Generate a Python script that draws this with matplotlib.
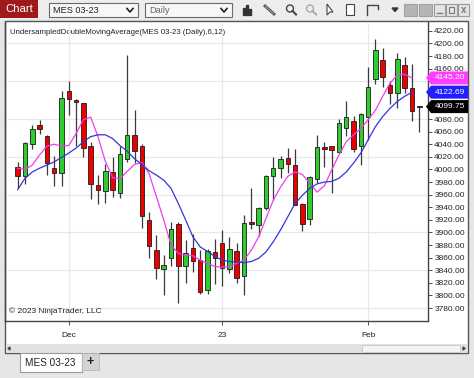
import matplotlib
matplotlib.use("Agg")
import matplotlib.pyplot as plt
from matplotlib.patches import Rectangle, Polygon, Circle

plt.rcParams['font.family'] = ['Liberation Sans', 'DejaVu Sans']

# ---------------- data ----------------
opens = [4003.5, 3990, 4041, 4070, 4053, 4003, 3994, 4125, 4110, 4105,
         4037, 3975, 3966, 3996, 3963, 4017, 4054, 4037, 3920, 3872,
         3842, 3859, 3913, 3847, 3876, 3856, 3809, 3869, 3884, 3842,
         3871, 3831, 3916, 3912, 3939, 3990, 4002, 4018, 4007, 3945,
         3922, 3985, 4035, 4037, 4028, 4065, 4077, 4037, 4084, 4143,
         4174, 4134, 4122, 4166, 4130, 4099]
highs = [4012, 4044, 4070, 4078, 4054, 4021, 4125, 4140, 4112, 4106,
         4044, 3991, 4008, 4020, 4037, 4182, 4094, 4040, 3932, 3896,
         3864, 3916, 3917, 3888, 3897, 3872, 3873, 3889, 3904, 3893,
         3883, 3927, 3970, 3941, 3991, 4020, 4021, 4034, 4032, 3946,
         3990, 4054, 4044, 4038, 4080, 4108, 4085, 4090, 4162, 4207,
         4192, 4141, 4185, 4178, 4168, 4101]
lows = [3970, 3977, 4032, 4056, 3991, 3973, 3974, 4087, 4038, 4019,
        3953, 3945, 3947, 3957, 3955, 4012, 4010, 3907, 3859, 3826,
        3801, 3846, 3788, 3820, 3838, 3803, 3802, 3819, 3815, 3835,
        3820, 3801, 3906, 3895, 3935, 3952, 3987, 3994, 3943, 3902,
        3912, 3978, 4004, 3962, 4026, 4053, 4028, 4007, 4047, 4136,
        4131, 4104, 4098, 4121, 4077, 4060]
closes = [3990, 4041.5, 4064, 4064, 4010, 3994, 4113, 4112, 4107, 4034,
          3977, 3968, 3997, 3967, 4024, 4054, 4029, 3926, 3879, 3843,
          3848, 3905, 3847, 3868, 3854, 3806, 3870, 3860, 3844, 3873,
          3827, 3915, 3913, 3939, 3990, 4002, 4017, 4009, 3944, 3914,
          3988, 4035, 4032, 4031, 4074, 4083, 4032, 4088, 4131, 4190,
          4146, 4122, 4175, 4130, 4092, 4099.75]
ma6 = [4002, 4000, 4007, 4023, 4037, 4040, 4037, 4038, 4057, 4079,
       4083, 4052, 4013, 3987, 3985, 3997, 4008, 4011, 3993, 3957,
       3920, 3880, 3867, 3864, 3863, 3856, 3851, 3846, 3845, 3846,
       3851, 3856, 3872, 3893, 3922, 3951, 3972, 3989, 3996, 3992,
       3978, 3964, 3974, 3999, 4023, 4044, 4055, 4065, 4079, 4094,
       4116, 4137, 4150, 4151, 4145.2]
ma12 = [3968, 3986, 3996, 4002, 4007, 4012, 4019, 4026, 4034, 4044,
        4052, 4055, 4055, 4049, 4038, 4029, 4017, 4008, 3998, 3991,
        3983, 3970, 3946, 3920, 3893, 3877, 3870, 3862, 3856, 3854,
        3853, 3852, 3854, 3859, 3869, 3885, 3904, 3925, 3946, 3959,
        3970, 3977, 3980, 3981, 3986, 3996, 4010, 4026, 4047, 4068,
        4084, 4097, 4108, 4116, 4122.69]
xtick_pos = [7, 28, 48]
xtick_labels = ['Dec', '23', 'Feb']
ytick_vals = list(range(3780, 4221, 20))
hidden_ticks = [4100, 4120, 4140]   # covered by the last-value markers
grid_vals = list(range(3780, 4201, 60))
last_values = [4145.20, 4122.69, 4099.75]
last_colors = ['#ff3dff', '#1f1fff', '#000000']
indicator_text = "UndersampledDoubleMovingAverage(MES 03-23 (Daily),6,12)"
copyright_text = "\u00a9 2023 NinjaTrader, LLC"
instrument = "MES 03-23"
period = "Daily"

# ---------------- figure & chrome ----------------
W, H = 474, 378
fig = plt.figure(figsize=(W / 100, H / 100), dpi=100)
bg = fig.add_axes([0, 0, 1, 1], zorder=0)
bg.set_xlim(0, W)
bg.set_ylim(H, 0)
bg.axis('off')

def rect(x0, y0, x1, y1, fc, ec='none', lw=0.8, z=1):
    bg.add_patch(Rectangle((x0, y0), x1 - x0, y1 - y0, facecolor=fc,
                           edgecolor=ec, linewidth=lw, zorder=z))

rect(0, 0, W, H, '#e6e6e6', z=0)
rect(0, 0, W, 20, '#ededed', z=0.5)
# Chart tab
rect(0, 0, 38, 18, '#9e1a1a')
bg.text(19, 9.5, 'Chart', color='white', fontsize=8.2, ha='center', va='center')
# dropdowns
for (x0, x1, t, col) in [(49, 138, instrument, '#222222'), (145, 232, period, '#666666')]:
    rect(x0, 3, x1, 17, '#f7f7f7', '#6b6b6b', 0.8)
    bg.text(x0 + 4, 10.5, t, color=col, fontsize=6.6, va='center')
    cx = x1 - 8
    bg.plot([cx - 3, cx, cx + 3], [8.5, 12, 8.5], color='#222', lw=1.2, zorder=3)
# icons
for k, hh in enumerate([7, 10, 6]):
    bg.add_patch(Rectangle((243 + k * 3.2, 15 - hh), 1.8, hh, color='#333', zorder=3))
bg.plot([265, 274], [6, 14], color='#444', lw=2, zorder=3)
bg.plot([265, 274], [6, 14], color='#bbb', lw=0.6, zorder=3)
bg.add_patch(Circle((290, 8.5), 3.5, fill=False, ec='#444', lw=1, zorder=3))
bg.plot([292.5, 296], [11, 14.5], color='#444', lw=1.5, zorder=3)
bg.add_patch(Circle((310, 8.5), 3.5, fill=False, ec='#aaa', lw=1, zorder=3))
bg.plot([312.5, 316], [11, 14.5], color='#aaa', lw=1.5, zorder=3)
bg.add_patch(Polygon([[327, 4], [327, 15], [330, 12], [333, 12]], closed=True,
                     fc='white', ec='#444', lw=0.8, zorder=3))
rect(346, 4, 354, 15, 'white', '#444', 0.8, z=3)
bg.plot([367, 367, 378, 378], [15, 5, 5, 9], color='#444', lw=1, zorder=3)
bg.add_patch(Polygon([[392, 8], [398, 8], [395, 11.5]], closed=True, color='#333', zorder=3))
rect(404, 4, 417, 16, '#b5b5b5', '#a0a0a0')
rect(419, 4, 432, 16, '#b5b5b5', '#a0a0a0')
for x0 in (434, 446, 458):
    rect(x0, 4, x0 + 11, 16, '#e4e4e4', '#9a9a9a')
bg.plot([437, 442], [13, 13], color='#777', lw=1, zorder=3)
rect(449, 7, 454, 13, 'none', '#777', 0.8, z=3)
bg.text(463.5, 10, 'x', color='#777', fontsize=7, ha='center', va='center', fontweight='bold')

# chart panel
rect(5, 21, 468, 353, 'white', '#555555', 1.0, z=0.6)
# scrollbar
rect(6, 344, 467, 353, '#e1e1e1', z=0.7)
rect(362, 345, 460, 352, '#f4f4f4', '#c8c8c8', 0.6, z=0.8)
bg.add_patch(Polygon([[8, 348.5], [10, 347], [10, 350]], closed=True, color='#444', zorder=2))
bg.add_patch(Polygon([[465, 348.5], [463, 347], [463, 350]], closed=True, color='#444', zorder=2))
# bottom tabs
rect(20, 353, 82, 372, 'white', '#9a9a9a', 0.8)
bg.text(25, 363, instrument, color='#222', fontsize=7.2, va='center')
rect(82, 353, 99, 370, '#d3d3d3', '#b8b8b8', 0.6)
bg.text(90.5, 361.5, '+', color='#222', fontsize=9, ha='center', va='center', fontweight='bold')

bg.text(10, 32, indicator_text, color='#222', fontsize=5.6, va='center')

# ---------------- price chart ----------------
ax = fig.add_axes([5 / W, 1 - 321 / H, 423 / W, 299 / H], zorder=1)
ax.patch.set_alpha(0)
ax.set_xlim(-1.74, 56.2)
ax.set_ylim(3759.5, 4234)

for g in grid_vals:
    ax.axhline(g, color='#e8e8e8', lw=0.9, zorder=0)
for xp in xtick_pos:
    ax.axvline(xp, color='#e8e8e8', lw=0.9, zorder=0)

bw = 0.62
for i, (o, h, l, c) in enumerate(zip(opens, highs, lows, closes)):
    ax.vlines(i, l, h, color='#3a3a3a', lw=0.9, zorder=2)
    col = '#2ecc2e' if c >= o else '#ee0000'
    if i == len(opens) - 1:
        col = '#1e6e1e'
    lo = min(o, c)
    ht = max(abs(c - o), 2.0)
    ax.add_patch(Rectangle((i - bw / 2, lo), bw, ht, facecolor=col,
                           edgecolor='#1a1a1a', linewidth=0.6, zorder=3))

ax.plot(range(len(ma6)), ma6, color='#f03cf0', lw=0.9, zorder=4)
ax.plot(range(len(ma12)), ma12, color='#3434dc', lw=0.9, zorder=4)

ax.yaxis.tick_right()
ax.set_yticks(ytick_vals)
ax.set_yticklabels(["" if v in hidden_ticks else f"{v:.2f}" for v in ytick_vals])
ax.tick_params(axis='y', length=3, width=0.6, labelsize=6, pad=1.5,
               colors='#333', labelcolor='#222')
ax.set_xticks(xtick_pos)
ax.set_xticklabels(xtick_labels)
ax.tick_params(axis='x', length=3, width=0.6, labelsize=6, pad=5.2,
               colors='#333', labelcolor='#222')
ax.spines['top'].set_visible(False)
for s in ('left', 'right', 'bottom'):
    ax.spines[s].set_color('#444')
    ax.spines[s].set_linewidth(1.0)

# last value price markers on the axis
tr = ax.get_yaxis_transform()
px = 1 / 423.0
hh = 6.5 / 0.63
for v, colr in zip(last_values, last_colors):
    x0 = 1 - 2 * px
    xa = x0 + 5 * px
    x1 = 1 + 40 * px
    poly = Polygon([[x0, v], [xa, v + hh], [x1, v + hh], [x1, v - hh], [xa, v - hh]],
                   closed=True, transform=tr, facecolor=colr, edgecolor='none',
                   clip_on=False, zorder=6)
    ax.add_patch(poly)
    ax.text(1 + 22 * px, v, f"{v:.2f}", transform=tr, color='white', fontsize=6,
            ha='center', va='center', clip_on=False, zorder=7)

ax.text(4 / 423, 9.5 / 299, copyright_text, transform=ax.transAxes, color='#222',
        fontsize=6, va='center')

fig.savefig('out.png', dpi=100)
